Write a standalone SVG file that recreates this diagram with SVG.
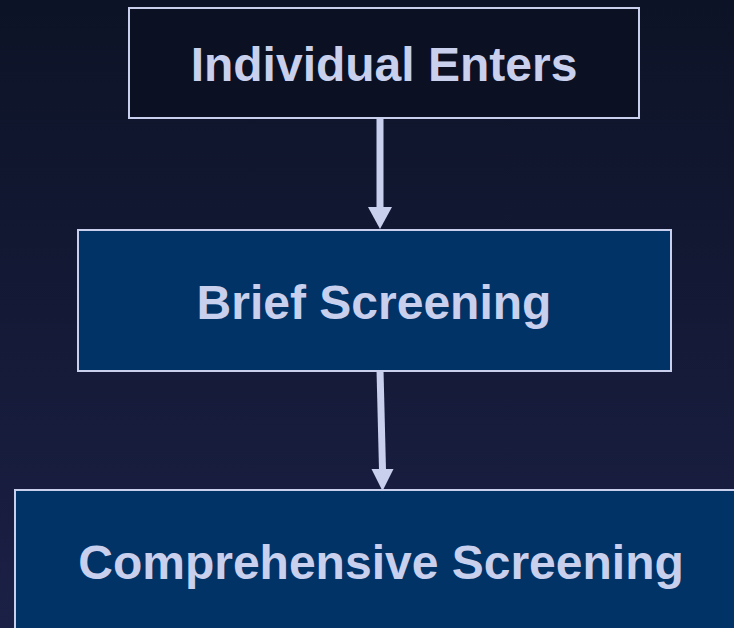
<svg xmlns="http://www.w3.org/2000/svg" width="734" height="628" viewBox="0 0 734 628">
<defs>
<linearGradient id="bg" x1="0" y1="0" x2="0" y2="1">
<stop offset="0" stop-color="#0d1326"/>
<stop offset="1" stop-color="#1b2046"/>
</linearGradient>
<style>
.box{stroke:#c8d0ee;stroke-width:2}
.dark{fill:#0b1122}
.blue{fill:#013366}
.lbl{font-family:"Liberation Sans",Arial,sans-serif;font-weight:bold;font-size:48px;fill:#c8d0ee;text-anchor:middle}
.conn{stroke:#c8d0ee;stroke-width:7;fill:none}
.head{fill:#c8d0ee}
</style>
</defs>
<rect width="734" height="628" fill="url(#bg)"/>
<g id="connectors">
<path class="conn" d="M380,119 L380,208"/>
<path class="head" d="M368,207 L392,207 L380,229 Z"/>
<path class="conn" d="M380,370 L382.5,470"/>
<path class="head" d="M371.5,469 L393.5,469 L382.5,491 Z"/>
</g>
<g id="node-individual-enters">
<rect class="box dark" x="129" y="8" width="510" height="110"/>
<text class="lbl" x="384" y="81">Individual Enters</text>
</g>
<g id="node-brief-screening">
<rect class="box blue" x="78" y="230" width="593" height="141"/>
<text class="lbl" x="374" y="319">Brief Screening</text>
</g>
<g id="node-comprehensive-screening">
<rect class="box blue" x="15" y="490" width="732" height="160"/>
<text class="lbl" x="381" y="579">Comprehensive Screening</text>
</g>
</svg>
